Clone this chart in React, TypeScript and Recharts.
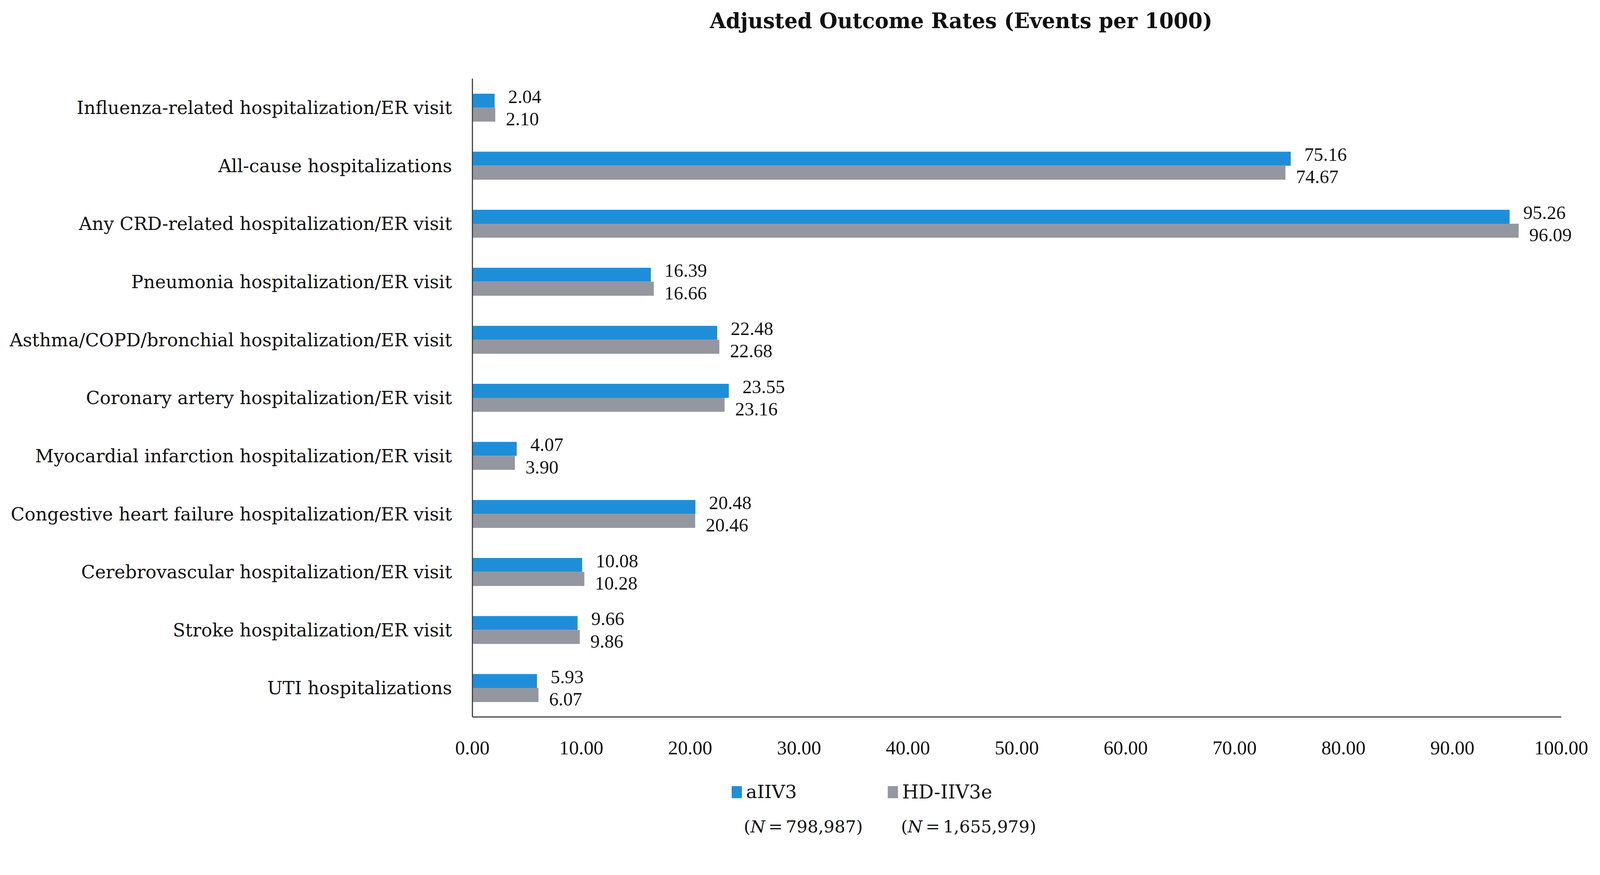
import React from 'react'
import { BarChart, Bar, XAxis, YAxis, LabelList } from 'recharts'

const categories = [
  'Influenza-related hospitalization/ER visit',
  'All-cause hospitalizations',
  'Any CRD-related hospitalization/ER visit',
  'Pneumonia hospitalization/ER visit',
  'Asthma/COPD/bronchial hospitalization/ER visit',
  'Coronary artery hospitalization/ER visit',
  'Myocardial infarction hospitalization/ER visit',
  'Congestive heart failure hospitalization/ER visit',
  'Cerebrovascular hospitalization/ER visit',
  'Stroke hospitalization/ER visit',
  'UTI hospitalizations',
]
const aIIV3 = [2.04, 75.16, 95.26, 16.39, 22.48, 23.55, 4.07, 20.48, 10.08, 9.66, 5.93]
const hdIIV3e = [2.1, 74.67, 96.09, 16.66, 22.68, 23.16, 3.9, 20.46, 10.28, 9.86, 6.07]
const xTicks = [0, 10, 20, 30, 40, 50, 60, 70, 80, 90, 100]

const BLUE = '#1F8ED8'
const GRAY = '#9497A0'
const FONT = '"DejaVu Serif", "Liberation Serif", serif'
const NUM_FONT = '"Liberation Serif", "DejaVu Serif", serif'

// the page viewport comes out a bit narrower than 4233 css px, so the
// whole 4233x2241 layout is shrunk to fit it
const FIT = 0.9675

const data = categories.map((name, i) => ({ name, a: aIIV3[i], hd: hdIIV3e[i] }))

// aIIV3 value sits near the top edge of its bar
const blueLabel = (props: any) => {
  const { x, y, width, height, value } = props
  return (
    <text x={x + width + 36} y={y + height * 0.2} fontSize={50} fontFamily={NUM_FONT} fill="#111" dominantBaseline="central">
      {Number(value).toFixed(2)}
    </text>
  )
}

// HD-IIV3e value hangs toward the bottom edge of its bar
const grayLabel = (props: any) => {
  const { x, y, width, height, value } = props
  return (
    <text x={x + width + 28} y={y + height * 0.8} fontSize={50} fontFamily={NUM_FONT} fill="#111" dominantBaseline="central">
      {Number(value).toFixed(2)}
    </text>
  )
}

export default function App() {
  return (
    <div
      style={{
        position: 'absolute',
        left: 0,
        top: 0,
        width: 4233,
        height: 2241,
        background: '#fff',
        fontFamily: FONT,
        transform: `scale(${FIT})`,
        transformOrigin: '0 0',
      }}
    >
      <div
        style={{
          position: 'absolute',
          top: 22,
          left: 1843,
          width: 1400,
          textAlign: 'center',
          fontSize: 55,
          fontWeight: 'bold',
          color: '#111',
        }}
      >
        Adjusted Outcome Rates (Events per 1000)
      </div>
      <BarChart
        width={4233}
        height={2241}
        data={data}
        layout="vertical"
        margin={{ top: 208, right: 102, bottom: 313, left: 0 }}
        barCategoryGap="26%"
        barGap={0}
      >
        <XAxis
          type="number"
          domain={[0, 100]}
          ticks={xTicks}
          tickFormatter={(v: number) => v.toFixed(2)}
          tickLine={false}
          tickSize={0}
          tickMargin={62}
          axisLine={{ stroke: '#404040', strokeWidth: 3 }}
          tick={{ fontSize: 52, fontFamily: NUM_FONT, fill: '#111' }}
          interval={0}
        />
        <YAxis
          type="category"
          dataKey="name"
          width={1250}
          tickLine={false}
          tickSize={0}
          tickMargin={54}
          axisLine={{ stroke: '#404040', strokeWidth: 3 }}
          tick={{ fontSize: 48, fontFamily: FONT, fill: '#111' }}
          interval={0}
        />
        <Bar dataKey="a" fill={BLUE} isAnimationActive={false}>
          <LabelList dataKey="a" content={blueLabel} />
        </Bar>
        <Bar dataKey="hd" fill={GRAY} isAnimationActive={false}>
          <LabelList dataKey="hd" content={grayLabel} />
        </Bar>
      </BarChart>
      <div style={{ position: 'absolute', top: 2068, left: 1936, display: 'flex', alignItems: 'center', fontSize: 49, color: '#111' }}>
        <span style={{ display: 'inline-block', width: 27, height: 32, background: BLUE, marginRight: 11 }} />
        <span>aIIV3</span>
      </div>
      <div style={{ position: 'absolute', top: 2068, left: 2349, display: 'flex', alignItems: 'center', fontSize: 50, color: '#111' }}>
        <span style={{ display: 'inline-block', width: 27, height: 32, background: GRAY, marginRight: 11 }} />
        <span>HD-IIV3e</span>
      </div>
      <div style={{ position: 'absolute', top: 2162, left: 1968, fontSize: 45, color: '#111', wordSpacing: -6 }}>
        (<i>N</i> = 798,987)
      </div>
      <div style={{ position: 'absolute', top: 2162, left: 2384, fontSize: 45, color: '#111', wordSpacing: -6 }}>
        (<i>N</i> = 1,655,979)
      </div>
    </div>
  )
}
